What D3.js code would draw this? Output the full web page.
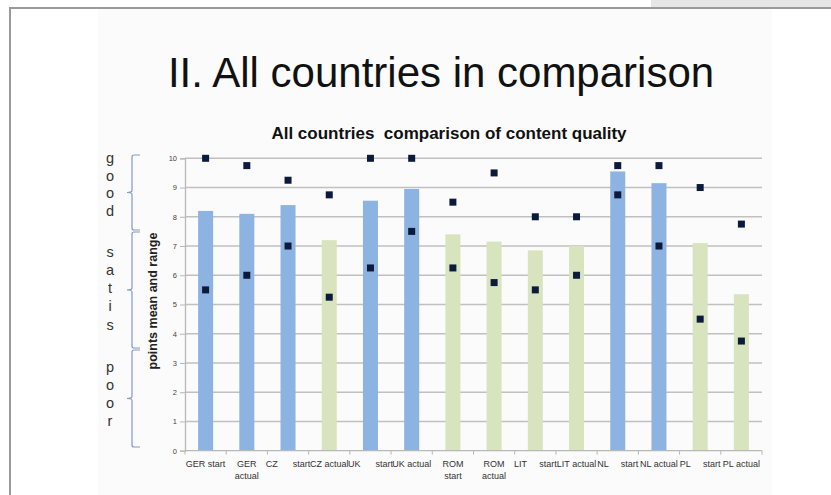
<!DOCTYPE html>
<html>
<head>
<meta charset="utf-8">
<script src="https://cdn.jsdelivr.net/npm/d3@7/dist/d3.min.js"></script>
<style>
  html, body { margin: 0; padding: 0; background: #ffffff; }
  svg { display: block; font-family: "Liberation Sans", Arial, Helvetica, sans-serif; }
</style>
</head>
<body>
<svg id="chart" width="831" height="495"></svg>
<script>
// Categories (country + survey round)
const categories = ["GER start", "GER actual", "CZ start", "CZ actual", "UK start", "UK actual",
  "ROM start", "ROM actual", "LIT start", "LIT actual", "NL start", "NL actual", "PL start", "PL actual"];

// Tick labels as they are laid out under each bar (one entry per line)
const tickLabels = [["GER start"], ["GER", "actual"], ["CZ      start"], ["CZ actual"], ["UK      start"], ["UK actual"],
  ["ROM", "start"], ["ROM", "actual"], ["LIT     start"], ["LIT actual"], ["NL     start"], ["NL actual"], ["PL     start"], ["PL actual"]];

// Mean score per category (bar height)
const meanValues = [8.2, 8.1, 8.4, 7.2, 8.55, 8.95, 7.4, 7.15, 6.85, 7.0, 9.55, 9.15, 7.1, 5.35];
// Range: highest and lowest scores
const maxValues = [10, 9.75, 9.25, 8.75, 10, 10, 8.5, 9.5, 8, 8, 9.75, 9.75, 9, 7.75];
const minValues = [5.5, 6, 7, 5.25, 6.25, 7.5, 6.25, 5.75, 5.5, 6, 8.75, 7, 4.5, 3.75];
// Bar colour group
const barGroup = ["blue", "blue", "blue", "green", "blue", "blue", "green", "green", "green", "green", "blue", "blue", "green", "green"];

// Y axis ticks and rating bands
const yTicks = [0, 1, 2, 3, 4, 5, 6, 7, 8, 9, 10];
const bandLabels = ["good", "satis", "poor"];

const colors = { blue: "#8db3e2", green: "#d7e4bd" };

const svg = d3.select("#chart");

// Slide frame
svg.append("rect").attr("x", 98).attr("y", 9).attr("width", 674).attr("height", 486).attr("fill", "#fbfbfb");
svg.append("rect").attr("x", 651).attr("y", 0).attr("width", 180).attr("height", 7).attr("fill", "#e6e6e6");
svg.append("line").attr("x1", 9).attr("x2", 831).attr("y1", 8).attr("y2", 8).attr("stroke", "#9a9a9a").attr("stroke-width", 2);
svg.append("line").attr("x1", 10).attr("x2", 10).attr("y1", 7).attr("y2", 495).attr("stroke", "#9a9a9a").attr("stroke-width", 2);

// Slide title
svg.append("text").attr("x", 441).attr("y", 87).attr("text-anchor", "middle")
  .attr("font-size", 42).attr("fill", "#111").text("II. All countries in comparison");

// Scales
const x = d3.scaleBand().domain(categories).range([185, 762]).paddingInner(0.636).paddingOuter(0.318);
const y = d3.scaleLinear().domain([0, 10]).range([450.7, 158.3]);

// Chart title
svg.append("text").attr("x", 449).attr("y", 139).attr("text-anchor", "middle")
  .attr("font-size", 17).attr("font-weight", "bold").attr("fill", "#111")
  .style("white-space", "pre")
  .text("All countries  comparison of content quality");

// Gridlines
svg.append("g").selectAll("line").data(yTicks.filter(t => t > 0)).join("line")
  .attr("x1", 185).attr("x2", 762).attr("y1", d => y(d)).attr("y2", d => y(d))
  .attr("stroke", "#c0c0c0").attr("stroke-width", 1.6);

// Y axis
const yAxis = svg.append("g").attr("transform", "translate(185,0)")
  .call(d3.axisLeft(y).tickValues(yTicks).tickSize(5).tickPadding(3));
yAxis.select(".domain").attr("stroke", "#b8b8b8").attr("stroke-width", 1.3);
yAxis.selectAll(".tick line").attr("stroke", "#b8b8b8");
yAxis.selectAll(".tick text").attr("font-size", 7.5).attr("fill", "#444")
  .attr("font-family", "Liberation Sans, Arial, sans-serif");

// Y axis title
svg.append("text").attr("transform", "translate(157,301) rotate(-90)").attr("text-anchor", "middle")
  .attr("font-size", 12.5).attr("font-weight", "bold").attr("fill", "#222").text("points mean and range");

// Bars
svg.append("g").selectAll("rect").data(categories).join("rect")
  .attr("x", d => x(d)).attr("width", x.bandwidth())
  .attr("y", (d, i) => y(meanValues[i])).attr("height", (d, i) => y(0) - y(meanValues[i]))
  .attr("fill", (d, i) => colors[barGroup[i]]);

// X axis
svg.append("line").attr("x1", 185).attr("x2", 762).attr("y1", y(0)).attr("y2", y(0))
  .attr("stroke", "#b8b8b8").attr("stroke-width", 1.3);
svg.append("g").selectAll("line").data(d3.range(categories.length + 1)).join("line")
  .attr("x1", i => 185 + i * x.step()).attr("x2", i => 185 + i * x.step())
  .attr("y1", y(0)).attr("y2", y(0) + 4).attr("stroke", "#b8b8b8");

// Category labels
const lab = svg.append("g").selectAll("text").data(categories).join("text")
  .attr("x", d => x(d) + x.bandwidth() / 2).attr("y", 467)
  .attr("text-anchor", "middle").attr("font-size", 9).attr("fill", "#333")
  .style("white-space", "pre");
lab.each(function (d, i) {
  d3.select(this).selectAll("tspan").data(tickLabels[i]).join("tspan")
    .attr("x", x(d) + x.bandwidth() / 2).attr("dy", (t, j) => j === 0 ? 0 : 12).text(t => t);
});

// Range markers (max and min)
const markerSize = 7;
const markers = svg.append("g");
markers.selectAll("rect.max").data(categories).join("rect").attr("class", "max")
  .attr("x", d => x(d) + x.bandwidth() / 2 - markerSize / 2)
  .attr("y", (d, i) => y(maxValues[i]) - markerSize / 2)
  .attr("width", markerSize).attr("height", markerSize).attr("fill", "#0c1a3c");
markers.selectAll("rect.min").data(categories).join("rect").attr("class", "min")
  .attr("x", d => x(d) + x.bandwidth() / 2 - markerSize / 2)
  .attr("y", (d, i) => y(minValues[i]) - markerSize / 2)
  .attr("width", markerSize).attr("height", markerSize).attr("fill", "#0c1a3c");

// Rating bands: braces with vertical letters
const bands = [
  { label: bandLabels[0], top: 155, bottom: 230, ys: [158, 176, 193, 211] },
  { label: bandLabels[1], top: 232, bottom: 348, ys: [252, 270, 288, 306, 325] },
  { label: bandLabels[2], top: 350, bottom: 447, ys: [367, 385, 403, 421] }
];
bands.forEach(b => {
  const mid = (b.top + b.bottom) / 2;
  svg.append("path")
    .attr("d", `M140,${b.top} L134,${b.top} Q132,${b.top} 132,${b.top + 2} L132,${mid - 2} Q132,${mid} 127,${mid} Q132,${mid} 132,${mid + 2} L132,${b.bottom - 2} Q132,${b.bottom} 134,${b.bottom} L140,${b.bottom}`)
    .attr("fill", "none").attr("stroke", "#8398c4").attr("stroke-width", 1.2);
  svg.append("g").selectAll("text").data(b.label.split("")).join("text")
    .attr("x", 110).attr("y", (c, i) => b.ys[i]).attr("dy", "0.35em")
    .attr("text-anchor", "middle").attr("font-size", 14.5).attr("fill", "#333").text(c => c);
});
</script>
</body>
</html>
